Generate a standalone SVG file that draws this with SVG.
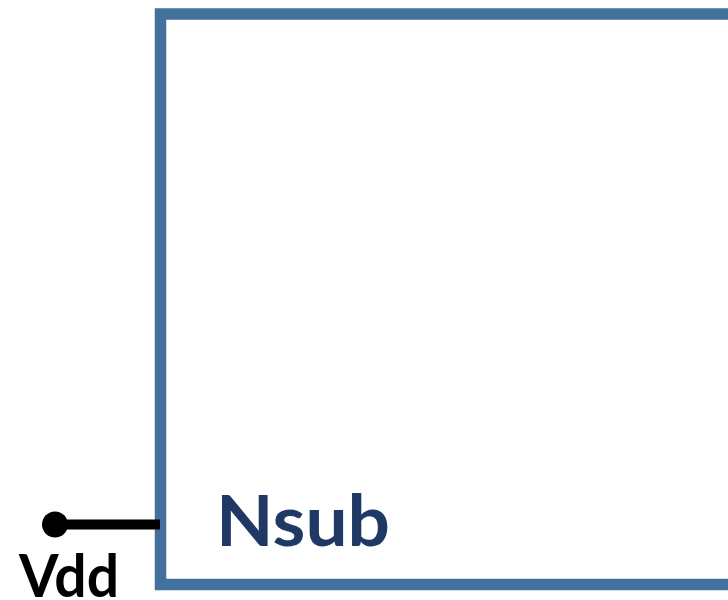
<svg xmlns="http://www.w3.org/2000/svg" width="728" height="600" viewBox="0 0 728 600">
<style>
.lbl{font-family:Lato,"Liberation Sans",Arial,sans-serif;font-weight:bold}
</style>
<rect width="728" height="600" fill="#fff"/>
<g id="nsub">
<rect x="160.5" y="14" width="600" height="570.5" fill="none" stroke="#41719C" stroke-width="11.5"/>
<text class="lbl" x="216" y="546" font-size="71" fill="#1F3864" textLength="174" lengthAdjust="spacingAndGlyphs">Nsub</text>
</g>
<g id="connectors">
<line x1="55" y1="524.5" x2="160" y2="524.5" stroke="#000" stroke-width="10"/>
</g>
<g id="vdd">
<circle cx="55" cy="524.5" r="13" fill="#000"/>
<text class="lbl" x="19" y="597" font-size="59" fill="#000" textLength="100" lengthAdjust="spacingAndGlyphs">Vdd</text>
</g>
</svg>
